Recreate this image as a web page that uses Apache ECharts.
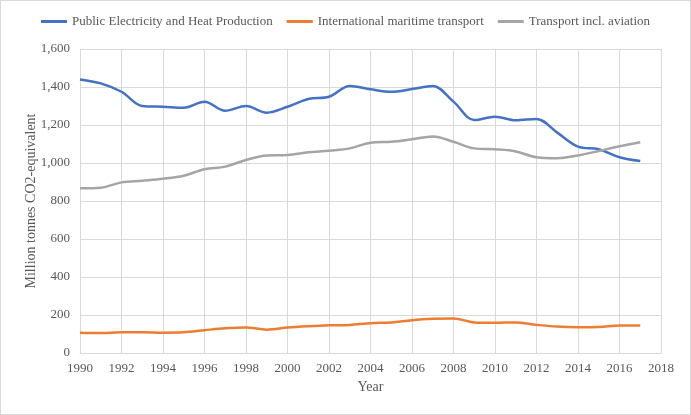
<!DOCTYPE html>
<html><head><meta charset="utf-8">
<script src="https://cdn.jsdelivr.net/npm/echarts@6/dist/echarts.min.js"></script>
<style>html,body{margin:0;padding:0;background:#fff}#c{width:689px;height:413px;border:1px solid #d9d9d9}</style>
</head><body><div id="c"></div>
<script>
var years = [1990,1991,1992,1993,1994,1995,1996,1997,1998,1999,2000,2001,2002,2003,2004,2005,2006,2007,2008,2009,2010,2011,2012,2013,2014,2015,2016,2017];
var electricity = [1440,1419,1375,1300,1296,1291,1323,1275,1300,1265,1296,1337,1349,1405,1388,1375,1389,1405,1323,1226,1244,1225,1232,1160,1086,1072,1030,1010];
var maritime = [107,105,109,109,107,109,120,130,134,123,134,141,146,148,157,161,173,180,182,161,159,161,148,139,136,137,145,145];
var transport = [867,870,898,907,917,933,967,981,1016,1040,1042,1056,1065,1077,1107,1112,1125,1140,1112,1077,1072,1061,1030,1025,1040,1063,1088,1109];
var names = ['Public Electricity and Heat Production','International maritime transport','Transport incl. aviation'];
var colors = ['#4472C4','#ED7D31','#A5A5A5'];
function pairs(v){return years.map(function(y,i){return [y,v[i]];});}
var font = 'Liberation Serif';
var txt = '#595959';
var chart = echarts.init(document.getElementById('c'));
chart.setOption({
  animation:false,
  color:colors,
  textStyle:{fontFamily:font},
  legend:{top:9,left:'center',itemWidth:26,itemHeight:3,itemGap:14,icon:'rect',
    textStyle:{fontFamily:font,fontSize:13,color:txt},data:names},
  grid:{left:79,right:29,top:48,bottom:61},
  xAxis:{type:'value',min:1990,max:2018,interval:2,
    name:'Year',nameLocation:'middle',nameGap:27,nameTextStyle:{fontFamily:font,fontSize:14,color:txt},
    axisLine:{show:true,lineStyle:{color:'#d9d9d9'}},axisTick:{show:false},
    axisLabel:{fontFamily:font,fontSize:13,color:txt,margin:9,formatter:function(v){return String(v);}},
    splitLine:{show:true,lineStyle:{color:'#d9d9d9'}}},
  yAxis:{type:'value',min:0,max:1600,interval:200,
    name:'Million tonnes CO2-equivalent',nameLocation:'middle',nameGap:42,nameMoveOverlap:false,nameTextStyle:{fontFamily:font,fontSize:14,color:txt},
    axisLine:{show:false},axisTick:{show:false},
    axisLabel:{fontFamily:font,fontSize:13,color:txt,margin:10,formatter:function(v){return v.toString().replace(/\B(?=(\d{3})+(?!\d))/g,',');}},
    splitLine:{show:true,lineStyle:{color:'#d9d9d9'}}},
  series:[
    {name:names[0],type:'line',smooth:0.35,showSymbol:false,lineStyle:{width:2.5},data:pairs(electricity)},
    {name:names[1],type:'line',smooth:0.35,showSymbol:false,lineStyle:{width:2.5},data:pairs(maritime)},
    {name:names[2],type:'line',smooth:0.35,showSymbol:false,lineStyle:{width:2.5},data:pairs(transport)}
  ]
});
</script></body></html>
